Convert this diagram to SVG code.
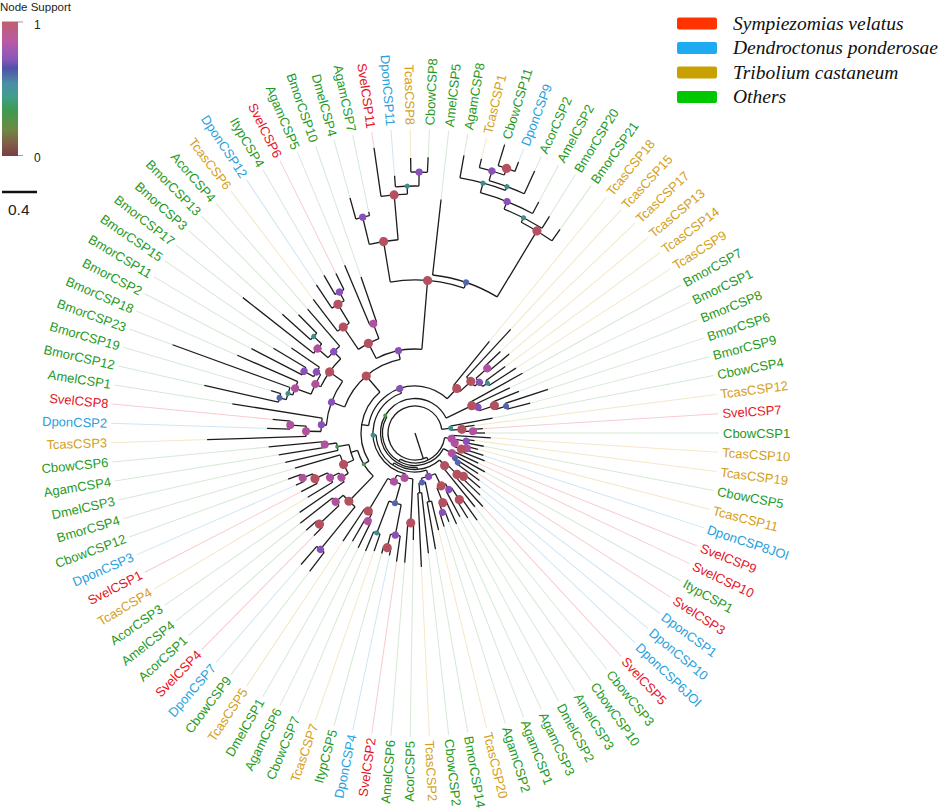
<svg xmlns="http://www.w3.org/2000/svg" width="941" height="809" viewBox="0 0 941 809">
<defs>
<linearGradient id="sup" x1="0" y1="0" x2="0" y2="1">
<stop offset="0" stop-color="#c25f6c"/><stop offset="0.15" stop-color="#b85aa6"/><stop offset="0.28" stop-color="#8a56b8"/><stop offset="0.35" stop-color="#5052a8"/><stop offset="0.46" stop-color="#4a8fa6"/><stop offset="0.56" stop-color="#3f9f8c"/><stop offset="0.66" stop-color="#3f9a4f"/><stop offset="0.8" stop-color="#6e8a44"/><stop offset="0.9" stop-color="#7f6048"/><stop offset="1" stop-color="#7c3c44"/>
</linearGradient>
<style>
.br path,.br circle{fill:none;stroke:#1c1c1c;stroke-width:1.3}
.ld path{fill:none;stroke-width:1}
.lg{stroke:#d6e9d6}.lr{stroke:#f7cdd0}.lb{stroke:#cfe6f3}.ly{stroke:#f4e8c8}
.lab text{font-family:"Liberation Sans",Arial,sans-serif;font-size:13px}
.L{text-anchor:end}
.g{fill:#1f9a1f}.r{fill:#e6121e}.b{fill:#27a0dc}.y{fill:#d4a020}
.dr{fill:#b4505f;r:4.6px}.mg{fill:#b0509f;r:4px}.pu{fill:#8a4fb8;r:3.6px}.bl{fill:#5266b0;r:3px}.te{fill:#3d8e8e;r:2.5px}.gr{fill:#3f9a50;r:2px}
.leg text{font-family:"Liberation Serif","Times New Roman",serif;font-style:italic;font-size:19.5px;fill:#111}
.cb text{font-family:"Liberation Sans",Arial,sans-serif;fill:#222}
</style>
</defs>
<rect width="941" height="809" fill="#fff"/>
<g id="colorbar" class="cb">
<text x="0" y="11" font-size="11.5">Node Support</text>
<rect x="2" y="21.5" width="16" height="134.5" fill="url(#sup)"/>
<path d="M18 22H23M18 155.5H23" stroke="#999" stroke-width="1"/>
<text x="34" y="29" font-size="12">1</text>
<text x="34" y="162" font-size="12">0</text>
</g>
<g id="scalebar" class="cb">
<path d="M2 192H37" stroke="#111" stroke-width="2.5"/>
<text x="8" y="215" font-size="15.5">0.4</text>
</g>
<g id="legend" class="leg">
<rect x="677" y="17.5" width="40" height="12" rx="2" fill="#ff3300"/>
<rect x="677" y="42" width="40" height="12" rx="2" fill="#1eaaf0"/>
<rect x="677" y="66.5" width="40" height="12" rx="2" fill="#c8a000"/>
<rect x="677" y="91" width="40" height="12" rx="2" fill="#00c800"/>
<text x="733" y="29.5">Sympiezomias velatus</text>
<text x="733" y="53.5">Dendroctonus ponderosae</text>
<text x="733" y="78.5">Tribolium castaneum</text>
<text x="733" y="103">Others</text>
</g>
<g id="tree" transform="translate(415 433)">
<g id="leaders" class="ld">
<path class="lg" d="M70 0H304"/>
<path class="lr" d="M68 0H304" transform="rotate(-3.636)"/>
<path class="ly" d="M60 0H304" transform="rotate(-7.273)"/>
<path class="lg" d="M79 0H304" transform="rotate(-10.909)"/>
<path class="lg" d="M119 0H304" transform="rotate(-14.545)"/>
<path class="lg" d="M140 0H304" transform="rotate(-18.182)"/>
<path class="lg" d="M112 0H304" transform="rotate(-21.818)"/>
<path class="lg" d="M105 0H304" transform="rotate(-25.455)"/>
<path class="lg" d="M123 0H304" transform="rotate(-29.091)"/>
<path class="ly" d="M120 0H304" transform="rotate(-32.727)"/>
<path class="ly" d="M112 0H304" transform="rotate(-36.364)"/>
<path class="ly" d="M123 0H304" transform="rotate(-40)"/>
<path class="ly" d="M118 0H304" transform="rotate(-43.636)"/>
<path class="ly" d="M141 0H304" transform="rotate(-47.273)"/>
<path class="ly" d="M118 0H304" transform="rotate(-50.909)"/>
<path class="lg" d="M250 0H304" transform="rotate(-54.545)"/>
<path class="lg" d="M255 0H304" transform="rotate(-58.182)"/>
<path class="lg" d="M262 0H304" transform="rotate(-61.818)"/>
<path class="lg" d="M288 0H304" transform="rotate(-65.455)"/>
<path class="lb" d="M290 0H304" transform="rotate(-69.091)"/>
<path class="lg" d="M302 0H304" transform="rotate(-72.727)"/>
<path class="ly" d="M282 0H304" transform="rotate(-76.364)"/>
<path class="lg" d="M282 0H304" transform="rotate(-80)"/>
<path class="lg" d="M235 0H304" transform="rotate(-83.636)"/>
<path class="lg" d="M276 0H304" transform="rotate(-87.273)"/>
<path class="ly" d="M275 0H304" transform="rotate(-90.909)"/>
<path class="lb" d="M258 0H304" transform="rotate(-94.545)"/>
<path class="lr" d="M288 0H304" transform="rotate(-98.182)"/>
<path class="lg" d="M226 0H304" transform="rotate(-101.818)"/>
<path class="lg" d="M244 0H304" transform="rotate(-105.455)"/>
<path class="lg" d="M165 0H304" transform="rotate(-109.091)"/>
<path class="lg" d="M182 0H304" transform="rotate(-112.727)"/>
<path class="lr" d="M178 0H304" transform="rotate(-116.364)"/>
<path class="lg" d="M182 0H304" transform="rotate(-120)"/>
<path class="lb" d="M178 0H304" transform="rotate(-123.636)"/>
<path class="ly" d="M168 0H304" transform="rotate(-127.273)"/>
<path class="lg" d="M164 0H304" transform="rotate(-130.909)"/>
<path class="lg" d="M166 0H304" transform="rotate(-134.545)"/>
<path class="lg" d="M178 0H304" transform="rotate(-138.182)"/>
<path class="lg" d="M219 0H304" transform="rotate(-141.818)"/>
<path class="lg" d="M150 0H304" transform="rotate(-145.455)"/>
<path class="lg" d="M165 0H304" transform="rotate(-149.091)"/>
<path class="lg" d="M184 0H304" transform="rotate(-152.727)"/>
<path class="lg" d="M194 0H304" transform="rotate(-156.364)"/>
<path class="lg" d="M258 0H304" transform="rotate(-160)"/>
<path class="lg" d="M150 0H304" transform="rotate(-163.636)"/>
<path class="lg" d="M216 0H304" transform="rotate(-167.273)"/>
<path class="lg" d="M185 0H304" transform="rotate(-170.909)"/>
<path class="lr" d="M143 0H304" transform="rotate(-174.545)"/>
<path class="lb" d="M148 0H304" transform="rotate(-178.182)"/>
<path class="ly" d="M208 0H304" transform="rotate(-181.818)"/>
<path class="lg" d="M147 0H304" transform="rotate(-185.455)"/>
<path class="lg" d="M138 0H304" transform="rotate(-189.091)"/>
<path class="lg" d="M133 0H304" transform="rotate(-192.727)"/>
<path class="lg" d="M125 0H304" transform="rotate(-196.364)"/>
<path class="lg" d="M135 0H304" transform="rotate(-200)"/>
<path class="lb" d="M130 0H304" transform="rotate(-203.636)"/>
<path class="lr" d="M128 0H304" transform="rotate(-207.273)"/>
<path class="ly" d="M125 0H304" transform="rotate(-210.909)"/>
<path class="lg" d="M140 0H304" transform="rotate(-214.545)"/>
<path class="lg" d="M146 0H304" transform="rotate(-218.182)"/>
<path class="lg" d="M146 0H304" transform="rotate(-221.818)"/>
<path class="lr" d="M144 0H304" transform="rotate(-225.455)"/>
<path class="lb" d="M174 0H304" transform="rotate(-229.091)"/>
<path class="lg" d="M174 0H304" transform="rotate(-232.727)"/>
<path class="ly" d="M130 0H304" transform="rotate(-236.364)"/>
<path class="lg" d="M125 0H304" transform="rotate(-240)"/>
<path class="lg" d="M128 0H304" transform="rotate(-243.636)"/>
<path class="lg" d="M128 0H304" transform="rotate(-247.273)"/>
<path class="ly" d="M125 0H304" transform="rotate(-250.909)"/>
<path class="lg" d="M125 0H304" transform="rotate(-254.545)"/>
<path class="lb" d="M125 0H304" transform="rotate(-258.182)"/>
<path class="lr" d="M130 0H304" transform="rotate(-261.818)"/>
<path class="lg" d="M130 0H304" transform="rotate(-265.455)"/>
<path class="lg" d="M107 0H304" transform="rotate(-269.091)"/>
<path class="ly" d="M134 0H304" transform="rotate(87.273)"/>
<path class="lg" d="M121 0H304" transform="rotate(83.636)"/>
<path class="lg" d="M118 0H304" transform="rotate(80)"/>
<path class="ly" d="M100 0H304" transform="rotate(76.364)"/>
<path class="lg" d="M98 0H304" transform="rotate(72.727)"/>
<path class="lg" d="M95 0H304" transform="rotate(69.091)"/>
<path class="lg" d="M100 0H304" transform="rotate(65.455)"/>
<path class="lg" d="M95 0H304" transform="rotate(61.818)"/>
<path class="lg" d="M100 0H304" transform="rotate(58.182)"/>
<path class="lg" d="M107 0H304" transform="rotate(54.545)"/>
<path class="lg" d="M95 0H304" transform="rotate(50.909)"/>
<path class="lr" d="M100 0H304" transform="rotate(47.273)"/>
<path class="lb" d="M90 0H304" transform="rotate(43.636)"/>
<path class="lb" d="M85 0H304" transform="rotate(40)"/>
<path class="lb" d="M80 0H304" transform="rotate(36.364)"/>
<path class="lr" d="M75 0H304" transform="rotate(32.727)"/>
<path class="lg" d="M80 0H304" transform="rotate(29.091)"/>
<path class="lr" d="M70 0H304" transform="rotate(25.455)"/>
<path class="lr" d="M75 0H304" transform="rotate(21.818)"/>
<path class="lb" d="M72 0H304" transform="rotate(18.182)"/>
<path class="ly" d="M65 0H304" transform="rotate(14.545)"/>
<path class="lg" d="M70 0H304" transform="rotate(10.909)"/>
<path class="ly" d="M60 0H304" transform="rotate(7.273)"/>
<path class="ly" d="M76 0H304" transform="rotate(3.636)"/>
</g>
<g id="branches" class="br">
<path d="M0 0H27" transform="rotate(72)"/>
<circle r="27" pathLength="360" stroke-dasharray="288.1 999" transform="rotate(-295.83)"/>
<circle r="30" pathLength="360" stroke-dasharray="110.61 999" transform="rotate(-351.136)"/>
<circle r="32.5" pathLength="360" stroke-dasharray="181.68 999" transform="rotate(-331.364)"/>
<circle r="34.5" pathLength="360" stroke-dasharray="248 999" transform="rotate(-273.68)"/>
<circle r="36.5" pathLength="360" stroke-dasharray="77.18 999" transform="rotate(-312.273)"/>
<circle r="39" pathLength="360" stroke-dasharray="104.36 999" transform="rotate(-287.273)"/>
<circle r="42" pathLength="360" stroke-dasharray="148.04 999" transform="rotate(-256.93)"/>
<circle r="47" pathLength="360" stroke-dasharray="124.16 999" transform="rotate(-170.97)"/>
<circle r="54" pathLength="360" stroke-dasharray="80.84 999" transform="rotate(-211.39)"/>
<circle r="60" pathLength="360" stroke-dasharray="29.04 999" transform="rotate(-225.909)"/>
<path d="M27 0H30" transform="rotate(-295.83)"/>
<path d="M30 0H32.5" transform="rotate(-240.52)"/>
<path d="M32.5 0H34.5" transform="rotate(-149.68)"/>
<path d="M34.5 0H36.5" transform="rotate(-273.68)"/>
<path d="M36.5 0H39" transform="rotate(-235.09)"/>
<path d="M39 0H42" transform="rotate(-182.91)"/>
<path d="M42 0H47" transform="rotate(-108.9)"/>
<path d="M47 0H54" transform="rotate(-170.97)"/>
<path d="M54 0H60" transform="rotate(-211.39)"/>
<circle r="58" pathLength="360" stroke-dasharray="3.636 999" transform="rotate(-3.636)"/>
<circle r="47" pathLength="360" stroke-dasharray="5.455 999" transform="rotate(-7.273)"/>
<circle r="36" pathLength="360" stroke-dasharray="6.364 999" transform="rotate(-10.909)"/>
<circle r="95" pathLength="360" stroke-dasharray="3.636 999" transform="rotate(-18.182)"/>
<circle r="84" pathLength="360" stroke-dasharray="5.455 999" transform="rotate(-21.818)"/>
<circle r="68" pathLength="360" stroke-dasharray="6.364 999" transform="rotate(-25.455)"/>
<circle r="63" pathLength="360" stroke-dasharray="6.818 999" transform="rotate(-29.091)"/>
<circle r="88" pathLength="360" stroke-dasharray="3.636 999" transform="rotate(-36.364)"/>
<circle r="97" pathLength="360" stroke-dasharray="3.636 999" transform="rotate(-43.636)"/>
<circle r="82" pathLength="360" stroke-dasharray="7.273 999" transform="rotate(-41.818)"/>
<circle r="76" pathLength="360" stroke-dasharray="9.091 999" transform="rotate(-47.273)"/>
<circle r="61" pathLength="360" stroke-dasharray="8.182 999" transform="rotate(-50.909)"/>
<path d="M47 0H58" transform="rotate(-1.818)"/>
<path d="M36 0H47" transform="rotate(-4.545)"/>
<path d="M27 0H36" transform="rotate(-7.727)"/>
<path d="M84 0H95" transform="rotate(-16.364)"/>
<path d="M68 0H84" transform="rotate(-19.091)"/>
<path d="M63 0H68" transform="rotate(-22.273)"/>
<path d="M34.5 0H63" transform="rotate(-25.682)"/>
<path d="M82 0H88" transform="rotate(-34.545)"/>
<path d="M82 0H97" transform="rotate(-41.818)"/>
<path d="M76 0H82" transform="rotate(-38.182)"/>
<path d="M61 0H76" transform="rotate(-42.727)"/>
<path d="M47 0H61" transform="rotate(-46.818)"/>
<circle r="280" pathLength="360" stroke-dasharray="3.636 999" transform="rotate(-72.727)"/>
<circle r="273" pathLength="360" stroke-dasharray="5.455 999" transform="rotate(-76.364)"/>
<circle r="263" pathLength="360" stroke-dasharray="8.182 999" transform="rotate(-73.636)"/>
<circle r="259" pathLength="360" stroke-dasharray="10.455 999" transform="rotate(-80)"/>
<circle r="249" pathLength="360" stroke-dasharray="12.955 999" transform="rotate(-74.773)"/>
<circle r="241" pathLength="360" stroke-dasharray="10.11 999" transform="rotate(-68.3)"/>
<circle r="236" pathLength="360" stroke-dasharray="8.69 999" transform="rotate(-63.24)"/>
<circle r="159" pathLength="360" stroke-dasharray="24.745 999" transform="rotate(-83.636)"/>
<circle r="261" pathLength="360" stroke-dasharray="3.636 999" transform="rotate(-90.909)"/>
<circle r="247" pathLength="360" stroke-dasharray="5.455 999" transform="rotate(-94.545)"/>
<circle r="239" pathLength="360" stroke-dasharray="6.364 999" transform="rotate(-98.182)"/>
<circle r="222" pathLength="360" stroke-dasharray="3.636 999" transform="rotate(-105.455)"/>
<circle r="194" pathLength="360" stroke-dasharray="8.636 999" transform="rotate(-103.636)"/>
<circle r="153" pathLength="360" stroke-dasharray="28.055 999" transform="rotate(-99.318)"/>
<circle r="117" pathLength="360" stroke-dasharray="3.636 999" transform="rotate(-112.727)"/>
<circle r="160" pathLength="360" stroke-dasharray="3.636 999" transform="rotate(-120)"/>
<circle r="150" pathLength="360" stroke-dasharray="5.455 999" transform="rotate(-123.636)"/>
<circle r="128" pathLength="360" stroke-dasharray="6.364 999" transform="rotate(-127.273)"/>
<circle r="101" pathLength="360" stroke-dasharray="13.182 999" transform="rotate(-124.091)"/>
<circle r="84" pathLength="360" stroke-dasharray="32.21 999" transform="rotate(-117.5)"/>
<circle r="140" pathLength="360" stroke-dasharray="3.636 999" transform="rotate(-138.182)"/>
<circle r="129" pathLength="360" stroke-dasharray="5.455 999" transform="rotate(-141.818)"/>
<circle r="115" pathLength="360" stroke-dasharray="8.182 999" transform="rotate(-139.091)"/>
<circle r="127" pathLength="360" stroke-dasharray="3.636 999" transform="rotate(-152.727)"/>
<circle r="116" pathLength="360" stroke-dasharray="5.455 999" transform="rotate(-150.909)"/>
<circle r="140" pathLength="360" stroke-dasharray="3.636 999" transform="rotate(-167.273)"/>
<circle r="133" pathLength="360" stroke-dasharray="5.455 999" transform="rotate(-165.455)"/>
<circle r="128" pathLength="360" stroke-dasharray="6.364 999" transform="rotate(-162.727)"/>
<circle r="111" pathLength="360" stroke-dasharray="11.364 999" transform="rotate(-159.545)"/>
<circle r="105" pathLength="360" stroke-dasharray="18.864 999" transform="rotate(-153.864)"/>
<circle r="125" pathLength="360" stroke-dasharray="3.636 999" transform="rotate(-178.182)"/>
<circle r="109" pathLength="360" stroke-dasharray="5.455 999" transform="rotate(-181.818)"/>
<circle r="94" pathLength="360" stroke-dasharray="8.182 999" transform="rotate(-179.091)"/>
<circle r="89" pathLength="360" stroke-dasharray="30.568 999" transform="rotate(-175)"/>
<circle r="75" pathLength="360" stroke-dasharray="58.32 999" transform="rotate(-159.716)"/>
<path d="M273 0H280" transform="rotate(-70.909)"/>
<path d="M263 0H273" transform="rotate(-73.636)"/>
<path d="M259 0H263" transform="rotate(-69.545)"/>
<path d="M249 0H259" transform="rotate(-74.773)"/>
<path d="M241 0H249" transform="rotate(-68.3)"/>
<path d="M236 0H241" transform="rotate(-63.24)"/>
<path d="M159 0H236" transform="rotate(-58.89)"/>
<path d="M153 0H159" transform="rotate(-71.264)"/>
<path d="M247 0H261" transform="rotate(-89.091)"/>
<path d="M239 0H247" transform="rotate(-91.818)"/>
<path d="M194 0H239" transform="rotate(-95)"/>
<path d="M194 0H222" transform="rotate(-103.636)"/>
<path d="M153 0H194" transform="rotate(-99.318)"/>
<path d="M84 0H153" transform="rotate(-85.29)"/>
<path d="M101 0H117" transform="rotate(-110.909)"/>
<path d="M150 0H160" transform="rotate(-118.182)"/>
<path d="M128 0H150" transform="rotate(-120.909)"/>
<path d="M101 0H128" transform="rotate(-124.091)"/>
<path d="M84 0H101" transform="rotate(-117.5)"/>
<path d="M75 0H84" transform="rotate(-101.4)"/>
<path d="M129 0H140" transform="rotate(-136.364)"/>
<path d="M115 0H129" transform="rotate(-139.091)"/>
<path d="M105 0H115" transform="rotate(-135)"/>
<path d="M116 0H127" transform="rotate(-150.909)"/>
<path d="M111 0H116" transform="rotate(-148.182)"/>
<path d="M133 0H140" transform="rotate(-165.455)"/>
<path d="M128 0H133" transform="rotate(-162.727)"/>
<path d="M111 0H128" transform="rotate(-159.545)"/>
<path d="M105 0H111" transform="rotate(-153.864)"/>
<path d="M89 0H105" transform="rotate(-144.432)"/>
<path d="M109 0H125" transform="rotate(-176.364)"/>
<path d="M94 0H109" transform="rotate(-179.091)"/>
<path d="M89 0H94" transform="rotate(-175)"/>
<path d="M75 0H89" transform="rotate(-159.716)"/>
<path d="M54 0H75" transform="rotate(-130.557)"/>
<circle r="91" pathLength="360" stroke-dasharray="3.636 999" transform="rotate(-189.091)"/>
<circle r="79" pathLength="360" stroke-dasharray="5.455 999" transform="rotate(-192.727)"/>
<circle r="121" pathLength="360" stroke-dasharray="3.636 999" transform="rotate(-203.636)"/>
<circle r="110" pathLength="360" stroke-dasharray="5.455 999" transform="rotate(-207.273)"/>
<circle r="96" pathLength="360" stroke-dasharray="6.364 999" transform="rotate(-210.909)"/>
<circle r="86" pathLength="360" stroke-dasharray="6.818 999" transform="rotate(-214.545)"/>
<circle r="78" pathLength="360" stroke-dasharray="14.773 999" transform="rotate(-211.136)"/>
<circle r="67" pathLength="360" stroke-dasharray="13.75 999" transform="rotate(-203.75)"/>
<circle r="132" pathLength="360" stroke-dasharray="3.636 999" transform="rotate(-225.455)"/>
<circle r="105" pathLength="360" stroke-dasharray="5.455 999" transform="rotate(-223.636)"/>
<circle r="150" pathLength="360" stroke-dasharray="3.636 999" transform="rotate(-232.727)"/>
<circle r="95" pathLength="360" stroke-dasharray="10 999" transform="rotate(-230.909)"/>
<circle r="100" pathLength="360" stroke-dasharray="3.636 999" transform="rotate(-243.636)"/>
<circle r="91" pathLength="360" stroke-dasharray="5.455 999" transform="rotate(-241.818)"/>
<circle r="107" pathLength="360" stroke-dasharray="3.636 999" transform="rotate(-250.909)"/>
<circle r="118" pathLength="360" stroke-dasharray="3.636 999" transform="rotate(-258.182)"/>
<circle r="104" pathLength="360" stroke-dasharray="5.455 999" transform="rotate(-261.818)"/>
<circle r="73" pathLength="360" stroke-dasharray="10 999" transform="rotate(-259.091)"/>
<circle r="53" pathLength="360" stroke-dasharray="15 999" transform="rotate(-254.091)"/>
<circle r="90" pathLength="360" stroke-dasharray="3.636 999" transform="rotate(-269.091)"/>
<circle r="46" pathLength="360" stroke-dasharray="20.68 999" transform="rotate(-267.273)"/>
<path d="M79 0H91" transform="rotate(-187.273)"/>
<path d="M67 0H79" transform="rotate(-190)"/>
<path d="M110 0H121" transform="rotate(-201.818)"/>
<path d="M96 0H110" transform="rotate(-204.545)"/>
<path d="M86 0H96" transform="rotate(-207.727)"/>
<path d="M78 0H86" transform="rotate(-211.136)"/>
<path d="M67 0H78" transform="rotate(-203.75)"/>
<path d="M60 0H67" transform="rotate(-196.87)"/>
<path d="M105 0H132" transform="rotate(-223.636)"/>
<path d="M95 0H105" transform="rotate(-220.909)"/>
<path d="M95 0H150" transform="rotate(-230.909)"/>
<path d="M60 0H95" transform="rotate(-225.909)"/>
<path d="M91 0H100" transform="rotate(-241.818)"/>
<path d="M53 0H91" transform="rotate(-239.091)"/>
<path d="M73 0H107" transform="rotate(-249.091)"/>
<path d="M104 0H118" transform="rotate(-256.364)"/>
<path d="M73 0H104" transform="rotate(-259.091)"/>
<path d="M53 0H73" transform="rotate(-254.091)"/>
<path d="M46 0H53" transform="rotate(-246.59)"/>
<path d="M46 0H90" transform="rotate(-267.273)"/>
<path d="M42 0H46" transform="rotate(-256.93)"/>
<circle r="60" pathLength="360" stroke-dasharray="3.636 999" transform="rotate(-276.364)"/>
<circle r="70" pathLength="360" stroke-dasharray="3.636 999" transform="rotate(-283.636)"/>
<circle r="50" pathLength="360" stroke-dasharray="7.273 999" transform="rotate(-281.818)"/>
<circle r="84" pathLength="360" stroke-dasharray="3.636 999" transform="rotate(-290.909)"/>
<circle r="75" pathLength="360" stroke-dasharray="5.455 999" transform="rotate(-294.545)"/>
<circle r="80" pathLength="360" stroke-dasharray="3.636 999" transform="rotate(-305.455)"/>
<circle r="66" pathLength="360" stroke-dasharray="5.455 999" transform="rotate(-303.636)"/>
<circle r="59" pathLength="360" stroke-dasharray="9.091 999" transform="rotate(-300.909)"/>
<circle r="45.5" pathLength="360" stroke-dasharray="18.182 999" transform="rotate(-296.364)"/>
<path d="M50 0H60" transform="rotate(-274.545)"/>
<path d="M50 0H70" transform="rotate(-281.818)"/>
<path d="M45.5 0H50" transform="rotate(-278.182)"/>
<path d="M75 0H84" transform="rotate(-289.091)"/>
<path d="M59 0H75" transform="rotate(-291.818)"/>
<path d="M66 0H80" transform="rotate(-303.636)"/>
<path d="M59 0H66" transform="rotate(-300.909)"/>
<path d="M45.5 0H59" transform="rotate(-296.364)"/>
<path d="M39 0H45.5" transform="rotate(-287.273)"/>
<circle r="65" pathLength="360" stroke-dasharray="3.636 999" transform="rotate(-320)"/>
<circle r="59" pathLength="360" stroke-dasharray="5.455 999" transform="rotate(-318.182)"/>
<circle r="44" pathLength="360" stroke-dasharray="6.364 999" transform="rotate(-315.455)"/>
<circle r="52" pathLength="360" stroke-dasharray="3.636 999" transform="rotate(-327.273)"/>
<circle r="47" pathLength="360" stroke-dasharray="5.455 999" transform="rotate(-330.909)"/>
<circle r="42" pathLength="360" stroke-dasharray="6.364 999" transform="rotate(-334.545)"/>
<circle r="54" pathLength="360" stroke-dasharray="3.636 999" transform="rotate(-345.455)"/>
<circle r="49" pathLength="360" stroke-dasharray="5.455 999" transform="rotate(-343.636)"/>
<circle r="52" pathLength="360" stroke-dasharray="3.636 999" transform="rotate(-352.727)"/>
<circle r="41" pathLength="360" stroke-dasharray="10 999" transform="rotate(-350.909)"/>
<circle r="37" pathLength="360" stroke-dasharray="10.455 999" transform="rotate(-356.364)"/>
<path d="M59 0H65" transform="rotate(-318.182)"/>
<path d="M44 0H59" transform="rotate(-315.455)"/>
<path d="M36.5 0H44" transform="rotate(-312.273)"/>
<path d="M47 0H52" transform="rotate(-325.455)"/>
<path d="M42 0H47" transform="rotate(-328.182)"/>
<path d="M32.5 0H42" transform="rotate(-331.364)"/>
<path d="M49 0H54" transform="rotate(-343.636)"/>
<path d="M41 0H49" transform="rotate(-340.909)"/>
<path d="M41 0H52" transform="rotate(-350.909)"/>
<path d="M37 0H41" transform="rotate(-345.909)"/>
<path d="M30 0H37" transform="rotate(-351.136)"/>
<path d="M58 0H70"/>
<path d="M58 0H68" transform="rotate(-3.636)"/>
<path d="M47 0H60" transform="rotate(-7.273)"/>
<path d="M36 0H79" transform="rotate(-10.909)"/>
<path d="M95 0H119" transform="rotate(-14.545)"/>
<path d="M95 0H140" transform="rotate(-18.182)"/>
<path d="M84 0H112" transform="rotate(-21.818)"/>
<path d="M68 0H105" transform="rotate(-25.455)"/>
<path d="M63 0H123" transform="rotate(-29.091)"/>
<path d="M88 0H120" transform="rotate(-32.727)"/>
<path d="M88 0H112" transform="rotate(-36.364)"/>
<path d="M97 0H123" transform="rotate(-40)"/>
<path d="M97 0H118" transform="rotate(-43.636)"/>
<path d="M76 0H141" transform="rotate(-47.273)"/>
<path d="M61 0H118" transform="rotate(-50.909)"/>
<path d="M236 0H250" transform="rotate(-54.545)"/>
<path d="M241 0H255" transform="rotate(-58.182)"/>
<path d="M249 0H262" transform="rotate(-61.818)"/>
<path d="M263 0H288" transform="rotate(-65.455)"/>
<path d="M280 0H290" transform="rotate(-69.091)"/>
<path d="M280 0H302" transform="rotate(-72.727)"/>
<path d="M273 0H282" transform="rotate(-76.364)"/>
<path d="M259 0H282" transform="rotate(-80)"/>
<path d="M159 0H235" transform="rotate(-83.636)"/>
<path d="M261 0H276" transform="rotate(-87.273)"/>
<path d="M261 0H275" transform="rotate(-90.909)"/>
<path d="M247 0H258" transform="rotate(-94.545)"/>
<path d="M239 0H288" transform="rotate(-98.182)"/>
<path d="M222 0H226" transform="rotate(-101.818)"/>
<path d="M222 0H244" transform="rotate(-105.455)"/>
<path d="M117 0H165" transform="rotate(-109.091)"/>
<path d="M117 0H182" transform="rotate(-112.727)"/>
<path d="M160 0H178" transform="rotate(-116.364)"/>
<path d="M160 0H182" transform="rotate(-120)"/>
<path d="M150 0H178" transform="rotate(-123.636)"/>
<path d="M128 0H168" transform="rotate(-127.273)"/>
<path d="M115 0H164" transform="rotate(-130.909)"/>
<path d="M140 0H166" transform="rotate(-134.545)"/>
<path d="M140 0H178" transform="rotate(-138.182)"/>
<path d="M129 0H219" transform="rotate(-141.818)"/>
<path d="M116 0H150" transform="rotate(-145.455)"/>
<path d="M127 0H165" transform="rotate(-149.091)"/>
<path d="M127 0H184" transform="rotate(-152.727)"/>
<path d="M128 0H194" transform="rotate(-156.364)"/>
<path d="M133 0H258" transform="rotate(-160)"/>
<path d="M140 0H150" transform="rotate(-163.636)"/>
<path d="M140 0H216" transform="rotate(-167.273)"/>
<path d="M94 0H185" transform="rotate(-170.909)"/>
<path d="M125 0H143" transform="rotate(-174.545)"/>
<path d="M125 0H148" transform="rotate(-178.182)"/>
<path d="M109 0H208" transform="rotate(-181.818)"/>
<path d="M91 0H147" transform="rotate(-185.455)"/>
<path d="M91 0H138" transform="rotate(-189.091)"/>
<path d="M79 0H133" transform="rotate(-192.727)"/>
<path d="M78 0H125" transform="rotate(-196.364)"/>
<path d="M121 0H135" transform="rotate(-200)"/>
<path d="M121 0H130" transform="rotate(-203.636)"/>
<path d="M110 0H128" transform="rotate(-207.273)"/>
<path d="M96 0H125" transform="rotate(-210.909)"/>
<path d="M86 0H140" transform="rotate(-214.545)"/>
<path d="M105 0H146" transform="rotate(-218.182)"/>
<path d="M132 0H146" transform="rotate(-221.818)"/>
<path d="M132 0H144" transform="rotate(-225.455)"/>
<path d="M150 0H174" transform="rotate(-229.091)"/>
<path d="M150 0H174" transform="rotate(-232.727)"/>
<path d="M91 0H130" transform="rotate(-236.364)"/>
<path d="M100 0H125" transform="rotate(-240)"/>
<path d="M100 0H128" transform="rotate(-243.636)"/>
<path d="M107 0H128" transform="rotate(-247.273)"/>
<path d="M107 0H125" transform="rotate(-250.909)"/>
<path d="M118 0H125" transform="rotate(-254.545)"/>
<path d="M118 0H125" transform="rotate(-258.182)"/>
<path d="M104 0H130" transform="rotate(-261.818)"/>
<path d="M90 0H130" transform="rotate(-265.455)"/>
<path d="M90 0H107" transform="rotate(-269.091)"/>
<path d="M60 0H134" transform="rotate(87.273)"/>
<path d="M60 0H121" transform="rotate(83.636)"/>
<path d="M70 0H118" transform="rotate(80)"/>
<path d="M70 0H100" transform="rotate(76.364)"/>
<path d="M84 0H98" transform="rotate(72.727)"/>
<path d="M84 0H95" transform="rotate(69.091)"/>
<path d="M75 0H100" transform="rotate(65.455)"/>
<path d="M66 0H95" transform="rotate(61.818)"/>
<path d="M80 0H100" transform="rotate(58.182)"/>
<path d="M80 0H107" transform="rotate(54.545)"/>
<path d="M44 0H95" transform="rotate(50.909)"/>
<path d="M59 0H100" transform="rotate(47.273)"/>
<path d="M65 0H90" transform="rotate(43.636)"/>
<path d="M65 0H85" transform="rotate(40)"/>
<path d="M52 0H80" transform="rotate(36.364)"/>
<path d="M52 0H75" transform="rotate(32.727)"/>
<path d="M47 0H80" transform="rotate(29.091)"/>
<path d="M42 0H70" transform="rotate(25.455)"/>
<path d="M49 0H75" transform="rotate(21.818)"/>
<path d="M54 0H72" transform="rotate(18.182)"/>
<path d="M54 0H65" transform="rotate(14.545)"/>
<path d="M52 0H70" transform="rotate(10.909)"/>
<path d="M52 0H60" transform="rotate(7.273)"/>
<path d="M37 0H76" transform="rotate(3.636)"/>
</g>
<g id="support">
<circle class="mg" cx="58" transform="rotate(-1.818)"/>
<circle class="dr" cx="47" transform="rotate(-4.545)"/>
<circle class="te" cx="36" transform="rotate(-7.727)"/>
<circle class="bl" cx="95" transform="rotate(-16.364)"/>
<circle class="dr" cx="84" transform="rotate(-19.091)"/>
<circle class="pu" cx="68" transform="rotate(-22.273)"/>
<circle class="dr" cx="63" transform="rotate(-25.682)"/>
<circle class="te" cx="88" transform="rotate(-34.545)"/>
<circle class="mg" cx="97" transform="rotate(-41.818)"/>
<circle class="pu" cx="82" transform="rotate(-38.182)"/>
<circle class="dr" cx="76" transform="rotate(-42.727)"/>
<circle class="dr" cx="61" transform="rotate(-46.818)"/>
<circle class="dr" cx="280" transform="rotate(-70.909)"/>
<circle class="pu" cx="273" transform="rotate(-73.636)"/>
<circle class="te" cx="263" transform="rotate(-69.545)"/>
<circle class="te" cx="259" transform="rotate(-74.773)"/>
<circle class="pu" cx="249" transform="rotate(-68.3)"/>
<circle class="te" cx="241" transform="rotate(-63.24)"/>
<circle class="dr" cx="236" transform="rotate(-58.89)"/>
<circle class="bl" cx="159" transform="rotate(-71.264)"/>
<circle class="pu" cx="261" transform="rotate(-89.091)"/>
<circle class="te" cx="247" transform="rotate(-91.818)"/>
<circle class="dr" cx="239" transform="rotate(-95)"/>
<circle class="pu" cx="222" transform="rotate(-103.636)"/>
<circle class="dr" cx="194" transform="rotate(-99.318)"/>
<circle class="dr" cx="153" transform="rotate(-85.29)"/>
<circle class="mg" cx="117" transform="rotate(-110.909)"/>
<circle class="pu" cx="160" transform="rotate(-118.182)"/>
<circle class="dr" cx="150" transform="rotate(-120.909)"/>
<circle class="dr" cx="128" transform="rotate(-124.091)"/>
<circle class="dr" cx="101" transform="rotate(-117.5)"/>
<circle class="pu" cx="84" transform="rotate(-101.4)"/>
<circle class="te" cx="140" transform="rotate(-136.364)"/>
<circle class="mg" cx="129" transform="rotate(-139.091)"/>
<circle class="pu" cx="115" transform="rotate(-135)"/>
<circle class="pu" cx="127" transform="rotate(-150.909)"/>
<circle class="pu" cx="116" transform="rotate(-148.182)"/>
<circle class="bl" cx="140" transform="rotate(-165.455)"/>
<circle class="te" cx="133" transform="rotate(-162.727)"/>
<circle class="mg" cx="128" transform="rotate(-159.545)"/>
<circle class="mg" cx="111" transform="rotate(-153.864)"/>
<circle class="dr" cx="105" transform="rotate(-144.432)"/>
<circle class="mg" cx="125" transform="rotate(-176.364)"/>
<circle class="mg" cx="109" transform="rotate(-179.091)"/>
<circle class="pu" cx="94" transform="rotate(-175)"/>
<circle class="pu" cx="89" transform="rotate(-159.716)"/>
<circle class="dr" cx="75" transform="rotate(-130.557)"/>
<circle class="mg" cx="91" transform="rotate(-187.273)"/>
<circle class="gr" cx="79" transform="rotate(-190)"/>
<circle class="mg" cx="121" transform="rotate(-201.818)"/>
<circle class="dr" cx="110" transform="rotate(-204.545)"/>
<circle class="mg" cx="96" transform="rotate(-207.727)"/>
<circle class="mg" cx="86" transform="rotate(-211.136)"/>
<circle class="dr" cx="78" transform="rotate(-203.75)"/>
<circle class="dr" cx="132" transform="rotate(-223.636)"/>
<circle class="mg" cx="105" transform="rotate(-220.909)"/>
<circle class="pu" cx="150" transform="rotate(-230.909)"/>
<circle class="dr" cx="95" transform="rotate(-225.909)"/>
<circle class="mg" cx="100" transform="rotate(-241.818)"/>
<circle class="dr" cx="91" transform="rotate(-239.091)"/>
<circle class="te" cx="107" transform="rotate(-249.091)"/>
<circle class="dr" cx="118" transform="rotate(-256.364)"/>
<circle class="pu" cx="104" transform="rotate(-259.091)"/>
<circle class="bl" cx="73" transform="rotate(-254.091)"/>
<circle class="mg" cx="53" transform="rotate(-246.59)"/>
<circle class="dr" cx="90" transform="rotate(-267.273)"/>
<circle class="mg" cx="46" transform="rotate(-256.93)"/>
<circle class="bl" cx="50" transform="rotate(-278.182)"/>
<circle class="pu" cx="84" transform="rotate(-289.091)"/>
<circle class="dr" cx="75" transform="rotate(-291.818)"/>
<circle class="dr" cx="80" transform="rotate(-303.636)"/>
<circle class="pu" cx="66" transform="rotate(-300.909)"/>
<circle class="dr" cx="59" transform="rotate(-296.364)"/>
<circle class="pu" cx="45.5" transform="rotate(-287.273)"/>
<circle class="dr" cx="65" transform="rotate(-318.182)"/>
<circle class="dr" cx="59" transform="rotate(-315.455)"/>
<circle class="dr" cx="44" transform="rotate(-312.273)"/>
<circle class="bl" cx="52" transform="rotate(-325.455)"/>
<circle class="bl" cx="47" transform="rotate(-328.182)"/>
<circle class="mg" cx="42" transform="rotate(-331.364)"/>
<circle class="mg" cx="54" transform="rotate(-343.636)"/>
<circle class="dr" cx="49" transform="rotate(-340.909)"/>
<circle class="pu" cx="52" transform="rotate(-350.909)"/>
<circle class="mg" cx="41" transform="rotate(-345.909)"/>
<circle class="mg" cx="37" transform="rotate(-351.136)"/>
<circle class="gr" cx="60" transform="rotate(-211.39)"/>
<circle class="pu" cx="47" transform="rotate(-108.9)"/>
<circle class="te" cx="42" transform="rotate(-182.91)"/>
<circle class="gr" cx="34.5" transform="rotate(-149.68)"/>
</g>
<g id="labels" class="lab">
<g id="t1"><text class="g" x="308" dy=".35em">CbowCSP1</text></g>
<g id="t2"><text class="r" x="308" dy=".35em" transform="rotate(-3.636)">SvelCSP7</text></g>
<g id="t3"><text class="y" x="308" dy=".35em" transform="rotate(-7.273)">TcasCSP12</text></g>
<g id="t4"><text class="g" x="308" dy=".35em" transform="rotate(-10.909)">CbowCSP4</text></g>
<g id="t5"><text class="g" x="308" dy=".35em" transform="rotate(-14.545)">BmorCSP9</text></g>
<g id="t6"><text class="g" x="308" dy=".35em" transform="rotate(-18.182)">BmorCSP6</text></g>
<g id="t7"><text class="g" x="308" dy=".35em" transform="rotate(-21.818)">BmorCSP8</text></g>
<g id="t8"><text class="g" x="308" dy=".35em" transform="rotate(-25.455)">BmorCSP1</text></g>
<g id="t9"><text class="g" x="308" dy=".35em" transform="rotate(-29.091)">BmorCSP7</text></g>
<g id="t10"><text class="y" x="308" dy=".35em" transform="rotate(-32.727)">TcasCSP9</text></g>
<g id="t11"><text class="y" x="308" dy=".35em" transform="rotate(-36.364)">TcasCSP14</text></g>
<g id="t12"><text class="y" x="308" dy=".35em" transform="rotate(-40)">TcasCSP13</text></g>
<g id="t13"><text class="y" x="308" dy=".35em" transform="rotate(-43.636)">TcasCSP17</text></g>
<g id="t14"><text class="y" x="308" dy=".35em" transform="rotate(-47.273)">TcasCSP15</text></g>
<g id="t15"><text class="y" x="308" dy=".35em" transform="rotate(-50.909)">TcasCSP18</text></g>
<g id="t16"><text class="g" x="308" dy=".35em" transform="rotate(-54.545)">BmorCSP21</text></g>
<g id="t17"><text class="g" x="308" dy=".35em" transform="rotate(-58.182)">BmorCSP20</text></g>
<g id="t18"><text class="g" x="308" dy=".35em" transform="rotate(-61.818)">AmelCSP2</text></g>
<g id="t19"><text class="g" x="308" dy=".35em" transform="rotate(-65.455)">AcorCSP2</text></g>
<g id="t20"><text class="b" x="308" dy=".35em" transform="rotate(-69.091)">DponCSP9</text></g>
<g id="t21"><text class="g" x="308" dy=".35em" transform="rotate(-72.727)">CbowCSP11</text></g>
<g id="t22"><text class="y" x="308" dy=".35em" transform="rotate(-76.364)">TcasCSP1</text></g>
<g id="t23"><text class="g" x="308" dy=".35em" transform="rotate(-80)">AgamCSP8</text></g>
<g id="t24"><text class="g" x="308" dy=".35em" transform="rotate(-83.636)">AmelCSP5</text></g>
<g id="t25"><text class="g" x="308" dy=".35em" transform="rotate(-87.273)">CbowCSP8</text></g>
<g id="t26"><text class="y L" x="-308" dy=".35em" transform="rotate(89.091)">TcasCSP8</text></g>
<g id="t27"><text class="b L" x="-308" dy=".35em" transform="rotate(85.455)">DponCSP11</text></g>
<g id="t28"><text class="r L" x="-308" dy=".35em" transform="rotate(81.818)">SvelCSP11</text></g>
<g id="t29"><text class="g L" x="-308" dy=".35em" transform="rotate(78.182)">AgamCSP7</text></g>
<g id="t30"><text class="g L" x="-308" dy=".35em" transform="rotate(74.545)">DmelCSP4</text></g>
<g id="t31"><text class="g L" x="-308" dy=".35em" transform="rotate(70.909)">BmorCSP10</text></g>
<g id="t32"><text class="g L" x="-308" dy=".35em" transform="rotate(67.273)">AgamCSP5</text></g>
<g id="t33"><text class="r L" x="-308" dy=".35em" transform="rotate(63.636)">SvelCSP6</text></g>
<g id="t34"><text class="g L" x="-308" dy=".35em" transform="rotate(60)">ItypCSP4</text></g>
<g id="t35"><text class="b L" x="-308" dy=".35em" transform="rotate(56.364)">DponCSP12</text></g>
<g id="t36"><text class="y L" x="-308" dy=".35em" transform="rotate(52.727)">TcasCSP6</text></g>
<g id="t37"><text class="g L" x="-308" dy=".35em" transform="rotate(49.091)">AcorCSP4</text></g>
<g id="t38"><text class="g L" x="-308" dy=".35em" transform="rotate(45.455)">BmorCSP13</text></g>
<g id="t39"><text class="g L" x="-308" dy=".35em" transform="rotate(41.818)">BmorCSP3</text></g>
<g id="t40"><text class="g L" x="-308" dy=".35em" transform="rotate(38.182)">BmorCSP17</text></g>
<g id="t41"><text class="g L" x="-308" dy=".35em" transform="rotate(34.545)">BmorCSP15</text></g>
<g id="t42"><text class="g L" x="-308" dy=".35em" transform="rotate(30.909)">BmorCSP11</text></g>
<g id="t43"><text class="g L" x="-308" dy=".35em" transform="rotate(27.273)">BmorCSP2</text></g>
<g id="t44"><text class="g L" x="-308" dy=".35em" transform="rotate(23.636)">BmorCSP18</text></g>
<g id="t45"><text class="g L" x="-308" dy=".35em" transform="rotate(20)">BmorCSP23</text></g>
<g id="t46"><text class="g L" x="-308" dy=".35em" transform="rotate(16.364)">BmorCSP19</text></g>
<g id="t47"><text class="g L" x="-308" dy=".35em" transform="rotate(12.727)">BmorCSP12</text></g>
<g id="t48"><text class="g L" x="-308" dy=".35em" transform="rotate(9.091)">AmelCSP1</text></g>
<g id="t49"><text class="r L" x="-308" dy=".35em" transform="rotate(5.455)">SvelCSP8</text></g>
<g id="t50"><text class="b L" x="-308" dy=".35em" transform="rotate(1.818)">DponCSP2</text></g>
<g id="t51"><text class="y L" x="-308" dy=".35em" transform="rotate(-1.818)">TcasCSP3</text></g>
<g id="t52"><text class="g L" x="-308" dy=".35em" transform="rotate(-5.455)">CbowCSP6</text></g>
<g id="t53"><text class="g L" x="-308" dy=".35em" transform="rotate(-9.091)">AgamCSP4</text></g>
<g id="t54"><text class="g L" x="-308" dy=".35em" transform="rotate(-12.727)">DmelCSP3</text></g>
<g id="t55"><text class="g L" x="-308" dy=".35em" transform="rotate(-16.364)">BmorCSP4</text></g>
<g id="t56"><text class="g L" x="-308" dy=".35em" transform="rotate(-20)">CbowCSP12</text></g>
<g id="t57"><text class="b L" x="-308" dy=".35em" transform="rotate(-23.636)">DponCSP3</text></g>
<g id="t58"><text class="r L" x="-308" dy=".35em" transform="rotate(-27.273)">SvelCSP1</text></g>
<g id="t59"><text class="y L" x="-308" dy=".35em" transform="rotate(-30.909)">TcasCSP4</text></g>
<g id="t60"><text class="g L" x="-308" dy=".35em" transform="rotate(-34.545)">AcorCSP3</text></g>
<g id="t61"><text class="g L" x="-308" dy=".35em" transform="rotate(-38.182)">AmelCSP4</text></g>
<g id="t62"><text class="g L" x="-308" dy=".35em" transform="rotate(-41.818)">AcorCSP1</text></g>
<g id="t63"><text class="r L" x="-308" dy=".35em" transform="rotate(-45.455)">SvelCSP4</text></g>
<g id="t64"><text class="b L" x="-308" dy=".35em" transform="rotate(-49.091)">DponCSP7</text></g>
<g id="t65"><text class="g L" x="-308" dy=".35em" transform="rotate(-52.727)">CbowCSP9</text></g>
<g id="t66"><text class="y L" x="-308" dy=".35em" transform="rotate(-56.364)">TcasCSP5</text></g>
<g id="t67"><text class="g L" x="-308" dy=".35em" transform="rotate(-60)">DmelCSP1</text></g>
<g id="t68"><text class="g L" x="-308" dy=".35em" transform="rotate(-63.636)">AgamCSP6</text></g>
<g id="t69"><text class="g L" x="-308" dy=".35em" transform="rotate(-67.273)">CbowCSP7</text></g>
<g id="t70"><text class="y L" x="-308" dy=".35em" transform="rotate(-70.909)">TcasCSP7</text></g>
<g id="t71"><text class="g L" x="-308" dy=".35em" transform="rotate(-74.545)">ItypCSP5</text></g>
<g id="t72"><text class="b L" x="-308" dy=".35em" transform="rotate(-78.182)">DponCSP4</text></g>
<g id="t73"><text class="r L" x="-308" dy=".35em" transform="rotate(-81.818)">SvelCSP2</text></g>
<g id="t74"><text class="g L" x="-308" dy=".35em" transform="rotate(-85.455)">AmelCSP6</text></g>
<g id="t75"><text class="g L" x="-308" dy=".35em" transform="rotate(-89.091)">AcorCSP5</text></g>
<g id="t76"><text class="y" x="308" dy=".35em" transform="rotate(87.273)">TcasCSP2</text></g>
<g id="t77"><text class="g" x="308" dy=".35em" transform="rotate(83.636)">CbowCSP2</text></g>
<g id="t78"><text class="g" x="308" dy=".35em" transform="rotate(80)">BmorCSP14</text></g>
<g id="t79"><text class="y" x="308" dy=".35em" transform="rotate(76.364)">TcasCSP20</text></g>
<g id="t80"><text class="g" x="308" dy=".35em" transform="rotate(72.727)">AgamCSP2</text></g>
<g id="t81"><text class="g" x="308" dy=".35em" transform="rotate(69.091)">AgamCSP1</text></g>
<g id="t82"><text class="g" x="308" dy=".35em" transform="rotate(65.455)">AgamCSP3</text></g>
<g id="t83"><text class="g" x="308" dy=".35em" transform="rotate(61.818)">DmelCSP2</text></g>
<g id="t84"><text class="g" x="308" dy=".35em" transform="rotate(58.182)">AmelCSP3</text></g>
<g id="t85"><text class="g" x="308" dy=".35em" transform="rotate(54.545)">CbowCSP10</text></g>
<g id="t86"><text class="g" x="308" dy=".35em" transform="rotate(50.909)">CbowCSP3</text></g>
<g id="t87"><text class="r" x="308" dy=".35em" transform="rotate(47.273)">SvelCSP5</text></g>
<g id="t88"><text class="b" x="308" dy=".35em" transform="rotate(43.636)">DponCSP6JOI</text></g>
<g id="t89"><text class="b" x="308" dy=".35em" transform="rotate(40)">DponCSP10</text></g>
<g id="t90"><text class="b" x="308" dy=".35em" transform="rotate(36.364)">DponCSP1</text></g>
<g id="t91"><text class="r" x="308" dy=".35em" transform="rotate(32.727)">SvelCSP3</text></g>
<g id="t92"><text class="g" x="308" dy=".35em" transform="rotate(29.091)">ItypCSP1</text></g>
<g id="t93"><text class="r" x="308" dy=".35em" transform="rotate(25.455)">SvelCSP10</text></g>
<g id="t94"><text class="r" x="308" dy=".35em" transform="rotate(21.818)">SvelCSP9</text></g>
<g id="t95"><text class="b" x="308" dy=".35em" transform="rotate(18.182)">DponCSP8JOI</text></g>
<g id="t96"><text class="y" x="308" dy=".35em" transform="rotate(14.545)">TcasCSP11</text></g>
<g id="t97"><text class="g" x="308" dy=".35em" transform="rotate(10.909)">CbowCSP5</text></g>
<g id="t98"><text class="y" x="308" dy=".35em" transform="rotate(7.273)">TcasCSP19</text></g>
<g id="t99"><text class="y" x="308" dy=".35em" transform="rotate(3.636)">TcasCSP10</text></g>
</g>
</g>
</svg>
